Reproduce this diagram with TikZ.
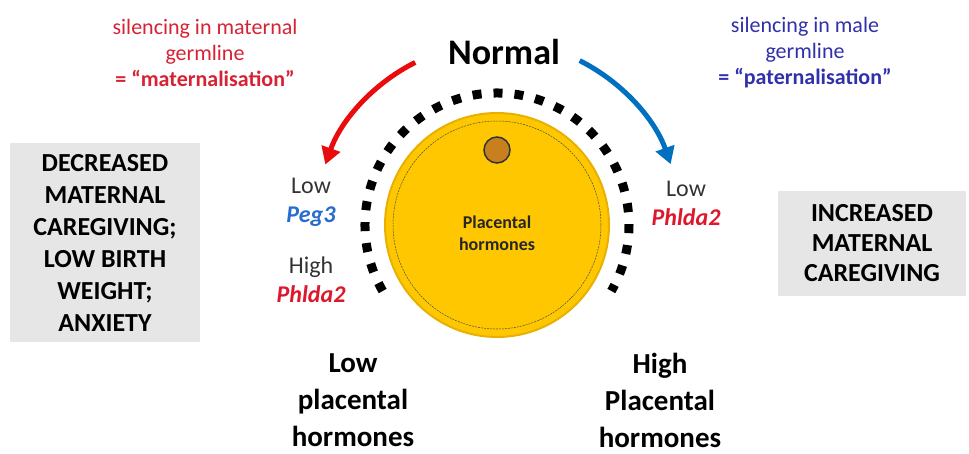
\documentclass[tikz,border=0pt]{standalone}
\usepackage{fontspec}
\setmainfont{Carlito}
\usetikzlibrary{arrows.meta}
\definecolor{dialgold}{RGB}{255,199,0}
\definecolor{dialrim}{RGB}{232,176,0}
\definecolor{knobbrown}{RGB}{200,128,30}
\definecolor{boxgrey}{RGB}{231,230,230}
\definecolor{matred}{RGB}{214,34,52}
\definecolor{patblue}{RGB}{48,48,172}
\definecolor{arrred}{RGB}{232,12,12}
\definecolor{arrblue}{RGB}{0,112,192}
\definecolor{genered}{RGB}{220,24,44}
\definecolor{geneblue}{RGB}{40,108,206}

\begin{document}
\begin{tikzpicture}[x=1pt,y=1pt,
  outcome/.style={fill=boxgrey,align=center,font=\fontsize{26}{32}\selectfont\bfseries},
  level/.style={align=center,font=\fontsize{29}{37}\selectfont\bfseries},
  gene/.style={align=center,text=black!80,font=\fontsize{24}{29}\selectfont},
  origin/.style={align=center,font=\fontsize{22}{26}\selectfont},
  turn/.style={line width=5pt,-{Triangle[length=17pt,width=19pt]}}]
  \useasboundingbox (0,0) rectangle (969,-453);
  % dial and its scale
  \node[circle,minimum size=224pt,fill=dialgold,draw=dialrim,line width=2pt] (dial) at (497,-225) {};
  \draw[black!70,line width=0.5pt,dash pattern=on 2pt off 1pt] (dial.center) circle[radius=104];
  \node[circle,minimum size=26pt,fill=knobbrown,draw=black!80,line width=1.5pt] (knob) at ([yshift=75pt]dial.center) {};
  \node[font=\fontsize{18}{22}\selectfont\bfseries,align=center,text=black!85] (dialtext) at ([yshift=-8pt]dial.center) {Placental\\hormones};
  \draw[line width=9pt,dash pattern=on 9pt off 12pt] ([shift={(210:132)}]dial.center) arc[start angle=210,end angle=-30,radius=132];
  \node[font=\fontsize{36}{40}\selectfont\bfseries] (normal) at (504,-52) {Normal};
  % germline silencing
  \node[origin,text=matred] (maternal) at (205,-53) {silencing in maternal\\germline\\\textbf{= “maternalisation”}};
  \node[origin,text=patblue] (paternal) at (805,-53) {silencing in male\\germline\\\textbf{= “paternalisation”}};
  \draw[turn,arrred] ([shift={(116.7:182)}]dial.center) coordinate (matfrom)
    arc[start angle=116.7,end angle=160.6,radius=182] coordinate (matto);
  \draw[turn,arrblue] ([shift={(63.3:184)}]dial.center) coordinate (patfrom)
    arc[start angle=63.3,end angle=19.3,radius=184] coordinate (patto);
  % gene levels
  \node[gene] (lowpeg) at (311,-202) {Low\\\textcolor{geneblue}{\bfseries\itshape Peg3}};
  \node[gene] (highphl) at (311,-280) {High\\\textcolor{genered}{\bfseries\itshape Phlda2}};
  \node[gene] (lowphl) at (686,-203) {Low\\\textcolor{genered}{\bfseries\itshape Phlda2}};
  % outcomes
  \node[outcome,minimum width=190pt,minimum height=199pt] (decreased) at (105,-242.5)
    {DECREASED\\MATERNAL\\CAREGIVING;\\LOW BIRTH\\WEIGHT;\\ANXIETY};
  \node[outcome,minimum width=188pt,minimum height=105pt,font=\fontsize{26}{30}\selectfont\bfseries] (increased) at (872,-243)
    {INCREASED\\MATERNAL\\CAREGIVING};
  \node[level] (lowlevel) at (353,-400) {Low\\placental\\hormones};
  \node[level] (highlevel) at (660,-400) {High\\Placental\\hormones};
\end{tikzpicture}
\end{document}
